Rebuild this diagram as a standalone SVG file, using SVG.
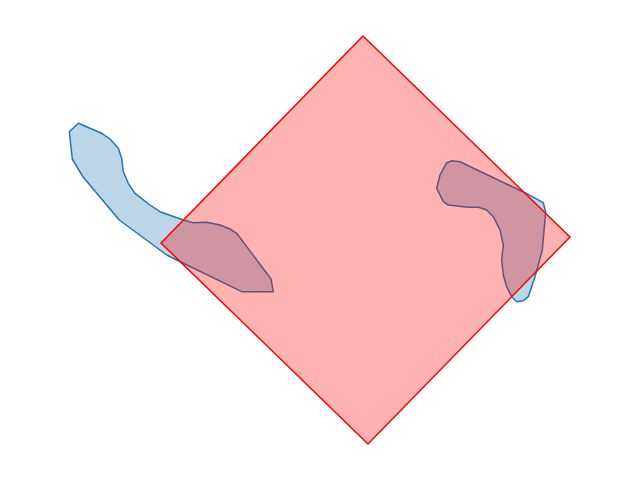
<svg xmlns="http://www.w3.org/2000/svg" width="640" height="480" viewBox="0 0 640 480">
<style>
.blob{fill:#1f77b4;fill-opacity:0.3;stroke:#1f77b4;stroke-width:1.5;stroke-linejoin:round}
.sq{fill:#ff0000;fill-opacity:0.3;stroke:#ff0000;stroke-width:1.5;stroke-linejoin:miter}
</style>
<rect width="640" height="480" fill="#ffffff"/>
<g id="blob-left">
<polygon class="blob" points="78.3,123.3 69.3,131.7 72.3,159 83.3,177.3 119.3,220 166.7,255 176.7,260 241.7,291.7 273.3,291.7 271,279 236.7,233.3 230,229 220,225 206.7,222.3 193.3,222.7 183.3,220 160,211.7 150,205 135,193.3 128.3,183.3 123.3,171.7 121.7,158.3 118.3,148.3 110,139 101.7,133.3"/>
</g>
<g id="blob-right">
<polygon class="blob" points="446.7,162.7 451.7,160.7 460,161.7 525,192.7 543.3,202.7 545.7,211.7 542.3,250 535,276.7 528.3,296.7 523.3,300.7 516.7,301.7 511.7,296.7 506.7,286.7 503.3,275 501.7,260 503.3,245 500,230 493.3,216.7 486.7,210 478.3,207.3 468.3,207.3 448.3,205 443.3,201.7 436.7,188.3 440,175"/>
</g>
<g id="square">
<polygon class="sq" points="363,36 570,237 368,444 161,243"/>
</g>
</svg>
